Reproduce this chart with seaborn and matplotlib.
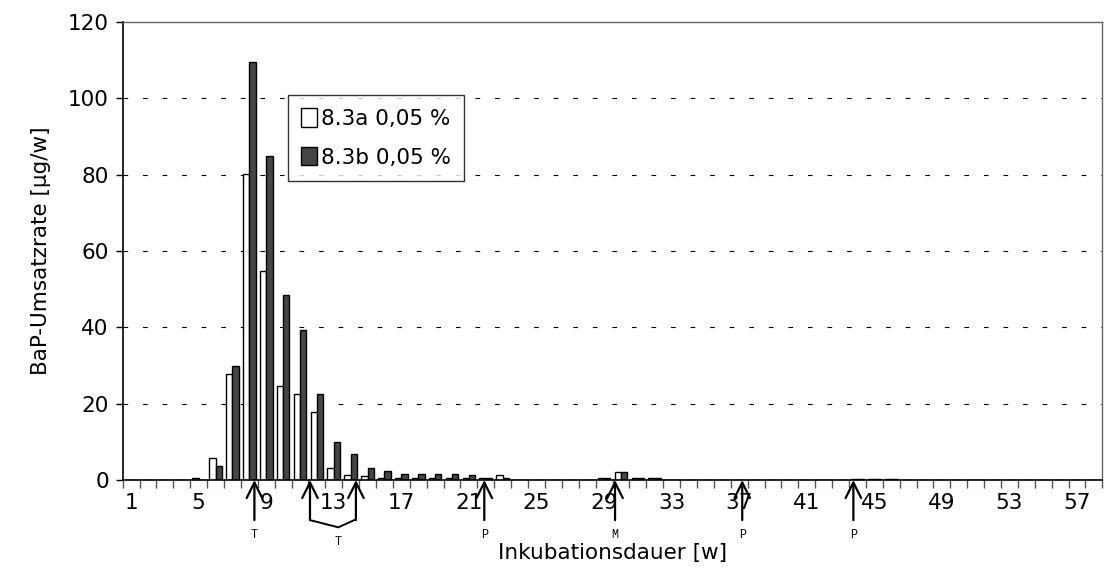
import numpy as np
import pandas as pd
import matplotlib
matplotlib.use("Agg")
import matplotlib.pyplot as plt
from matplotlib.patches import Patch
import seaborn as sns

# Incubation weeks 1..58
weeks = list(range(1, 59))

# BaP conversion rate [µg/w] per week for the two replicates
rate_a = [0, 0, 0, 0, 0.6, 5.9, 27.8, 80.2, 54.7, 24.7,
          22.6, 17.8, 3.2, 1.4, 1.0, 0.6, 0.6, 0.4, 0.6, 0.6,
          0.6, 0.6, 1.2, 0, 0, 0, 0, 0, 0.5, 2.2,
          0.5, 0.5, 0, 0, 0, 0, 0, 0, 0, 0,
          0, 0, 0, 0.3, 0.3, 0.3, 0, 0, 0, 0,
          0, 0, 0, 0, 0, 0, 0, 0]
rate_b = [0, 0, 0, 0, 0, 3.8, 30.0, 109.6, 85.0, 48.4,
          39.4, 22.6, 10.0, 6.9, 3.2, 2.3, 1.7, 1.7, 1.7, 1.7,
          1.2, 0.6, 0.6, 0, 0, 0, 0, 0, 0.5, 2.0,
          0.5, 0.5, 0, 0, 0, 0, 0, 0, 0, 0,
          0, 0, 0, 0.3, 0.3, 0.3, 0, 0, 0, 0,
          0, 0, 0, 0, 0, 0, 0, 0]

series_names = ["8.3a 0,05 %", "8.3b 0,05 %"]
series_colors = ["#ffffff", "#454545"]

# Event markers below the time axis (position in category units, letter)
event_pos = [7.30, 20.91, 28.65, 36.18, 42.76]
event_lbl = ["T", "P", "M", "P", "P"]
# Bracketed interval marked with a single "T"
bracket_pos = [10.59, 13.31]
bracket_lbl = "T"

sns.set_style("white")
plt.rcParams["font.family"] = ["DejaVu Sans"]
plt.rcParams["text.color"] = "black"
plt.rcParams["axes.labelcolor"] = "black"
plt.rcParams["xtick.color"] = "black"
plt.rcParams["ytick.color"] = "black"

df = pd.DataFrame({
    "week": [str(w) for w in weeks] * 2,
    "rate": rate_a + rate_b,
    "series": [series_names[0]] * len(weeks) + [series_names[1]] * len(weeks),
})

fig = plt.figure(figsize=(11.07, 5.72), dpi=100)
ax = fig.add_axes([0.1108, 0.1608, 0.885, 0.8007])

sns.barplot(data=df, x="week", y="rate", hue="series",
            order=[str(w) for w in weeks], hue_order=series_names,
            palette=series_colors, edgecolor="black", linewidth=1.0,
            width=0.75, ax=ax, legend=False)

ax.set_xlim(-0.5, len(weeks) - 0.5)
ax.set_ylim(0, 120)

# y axis
ax.set_yticks(np.arange(0, 121, 20))
ax.tick_params(axis="y", direction="out", length=5, width=1,
               labelsize=15.5, pad=5, left=True)
for yv in range(20, 120, 20):
    ax.axhline(yv, color="black", lw=0.8, ls=(0, (4.2, 13.4)), zorder=0)

# x axis: labels at every fourth week, tick marks between weeks
lab_idx = list(range(0, len(weeks), 4))
ax.set_xticks(lab_idx)
ax.set_xticklabels([str(weeks[i]) for i in lab_idx])
ax.set_xticks(np.arange(-0.5, len(weeks) + 0.5, 1.0), minor=True)
ax.tick_params(axis="x", which="major", length=0, labelsize=15.5, pad=9)
ax.tick_params(axis="x", which="minor", direction="out", length=6, width=1,
               colors="#555555", bottom=True)

for side in ["left", "bottom"]:
    ax.spines[side].set_color("black")
    ax.spines[side].set_linewidth(1.2)
for side in ["top", "right"]:
    ax.spines[side].set_visible(True)
    ax.spines[side].set_color("#666666")
    ax.spines[side].set_linewidth(1.0)

ax.set_xlabel("Inkubationsdauer [w]", fontsize=15.5, labelpad=22)
ax.set_ylabel("BaP-Umsatzrate [µg/w]", fontsize=15.5, labelpad=12)

handles = [Patch(facecolor=c, edgecolor="black", linewidth=1.0) for c in series_colors]
leg = ax.legend(handles, series_names, loc="upper left",
                bbox_to_anchor=(0.1687, 0.8406), borderaxespad=0,
                fontsize=15.5, frameon=True, fancybox=False, shadow=False,
                handlelength=0.75, handleheight=0.95, handletextpad=0.2,
                labelspacing=0.85, borderpad=0.6, edgecolor="black")
leg.get_frame().set_linewidth(1.0)

# event arrows below the axis
ybot = -10.5
arrow_kw = dict(arrowstyle="->,head_length=0.8,head_width=0.4", lw=1.6,
                color="black", shrinkA=0, shrinkB=0, mutation_scale=14)
for p, t in zip(event_pos, event_lbl):
    ax.annotate("", xy=(p, 0), xytext=(p, ybot), xycoords="data",
                arrowprops=arrow_kw, annotation_clip=False)
    ax.text(p, -14.5, t, ha="center", va="center", fontsize=8.5,
            family="Liberation Mono", clip_on=False)

for p in bracket_pos:
    ax.annotate("", xy=(p, 0), xytext=(p, ybot), xycoords="data",
                arrowprops=arrow_kw, annotation_clip=False)
mid = 12.27
ax.plot([bracket_pos[0], mid, bracket_pos[1]], [ybot, -12.4, ybot + 0.2],
        color="black", lw=1.4, clip_on=False)
ax.text(mid, -16.3, bracket_lbl, ha="center", va="center", fontsize=8.5,
        family="Liberation Mono", clip_on=False)

fig.savefig("out.png", dpi=100)
